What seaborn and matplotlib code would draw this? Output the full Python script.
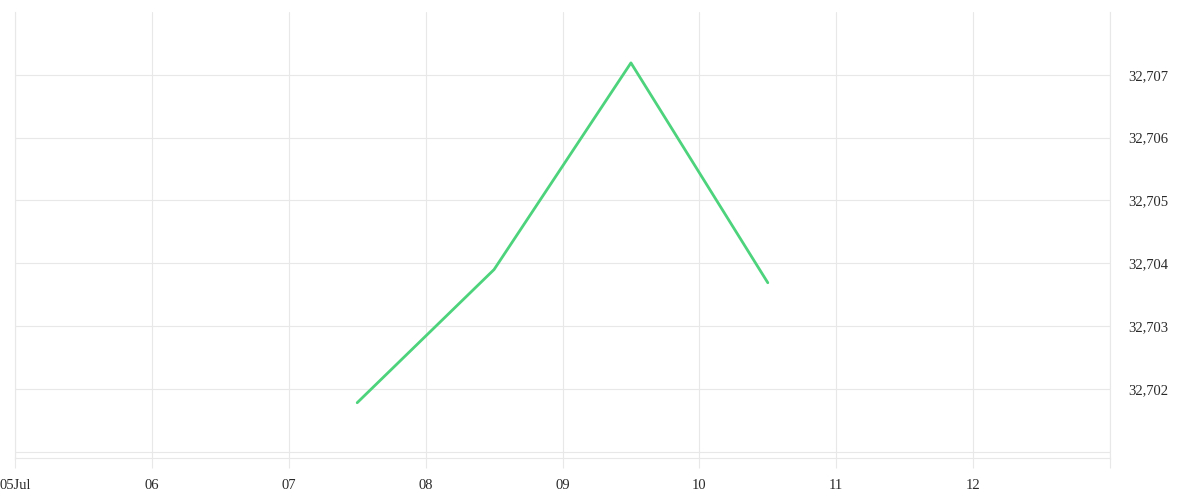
import matplotlib
matplotlib.use("Agg")
import matplotlib.pyplot as plt
import matplotlib.dates as mdates
import seaborn as sns
import pandas as pd
import numpy as np

# Data
times = ["2024-07-07 12:00", "2024-07-08 12:00", "2024-07-09 12:00", "2024-07-10 12:00"]
values = [32.70178, 32.70390, 32.70719, 32.70369]
x_tick_days = ["2024-07-05", "2024-07-06", "2024-07-07", "2024-07-08", "2024-07-09",
               "2024-07-10", "2024-07-11", "2024-07-12", "2024-07-13"]
x_tick_labels = ["05Jul", "06", "07", "08", "09", "10", "11", "12", ""]
y_ticks = [32.701, 32.702, 32.703, 32.704, 32.705, 32.706, 32.707]
y_tick_labels = ["", "32,702", "32,703", "32,704", "32,705", "32,706", "32,707"]

df = pd.DataFrame({"time": pd.to_datetime(times), "value": values})

sns.set_theme(style="white")
plt.rcParams["font.family"] = ["Liberation Serif", "DejaVu Serif"]

fig = plt.figure(figsize=(12, 5), dpi=100)
ax = fig.add_axes([15/1200, 42/500, (1110-15)/1200, (458-12)/500])

grid_c = "#e8e8e8"
sns.lineplot(data=df, x="time", y="value", ax=ax, color="#4cd37b", linewidth=2)

xt = mdates.date2num(pd.to_datetime(x_tick_days))
ax.set_xlim(xt[0], xt[-1])
ax.set_ylim(32.7009, 32.708)
ax.set_xticks(xt)
ax.set_xticklabels(x_tick_labels)
ax.set_yticks(y_ticks)
ax.set_yticklabels(y_tick_labels)

ax.grid(True, color=grid_c, linewidth=0.8)
ax.set_axisbelow(True)
ax.spines["top"].set_visible(False)
for s in ["bottom", "left", "right"]:
    ax.spines[s].set_color(grid_c)
    ax.spines[s].set_linewidth(0.8)

ax.yaxis.tick_right()
ax.tick_params(axis="y", length=0, pad=13, labelsize=10.5, labelcolor="#2a2a2a")
ax.tick_params(axis="x", bottom=True, direction="out", length=7.5, width=0.8, color=grid_c,
               pad=7.5, labelsize=10.5, labelcolor="#2a2a2a")
ax.set_xlabel("")
ax.set_ylabel("")

fig.savefig("out.png", dpi=100, facecolor="white")
